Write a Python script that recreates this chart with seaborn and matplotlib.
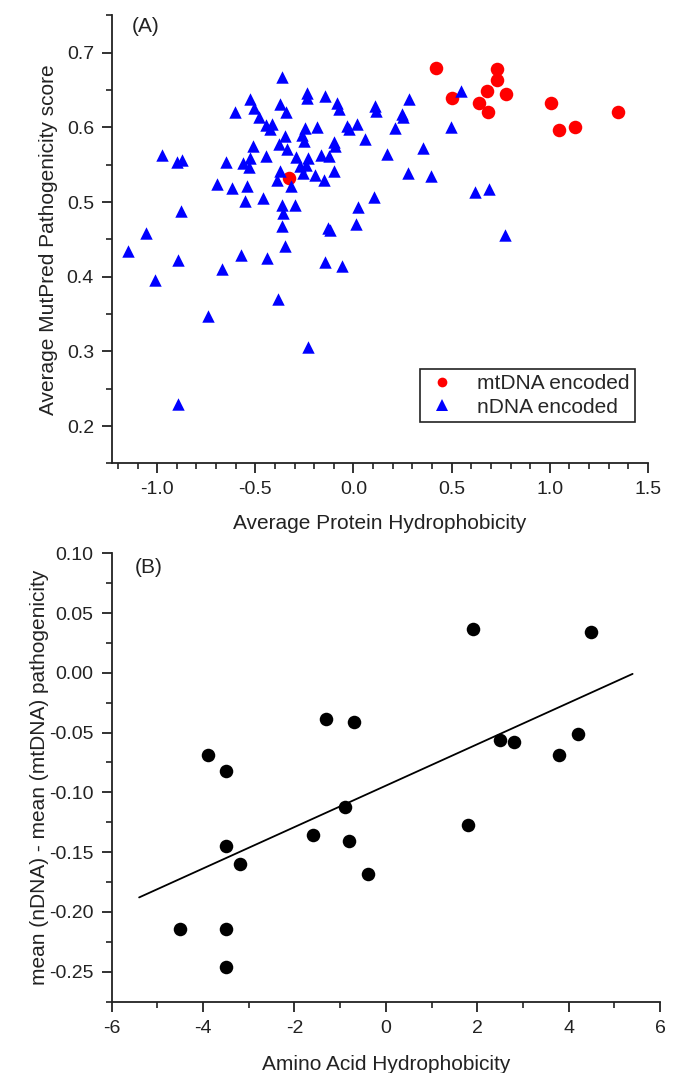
import numpy as np
import pandas as pd
import matplotlib
matplotlib.use("Agg")
import matplotlib.pyplot as plt
from matplotlib.ticker import MultipleLocator, FormatStrFormatter
from matplotlib.lines import Line2D
import seaborn as sns

# ---------------- data ----------------
# Panel A: mtDNA-encoded proteins
mt_hydro = [0.421, 0.731, 0.732, 0.680, 0.779, 0.504, 0.637, 0.684, 1.006, 1.348, 1.049, 1.127, -0.328]
mt_path = [0.680, 0.678, 0.664, 0.649, 0.645, 0.639, 0.632, 0.620, 0.632, 0.620, 0.596, 0.600, 0.532]

# Panel A: nDNA-encoded proteins
n_hydro = [-0.975, -0.898, -0.873, -0.878, -1.057, -1.146, -1.009, -0.895, -0.895, -0.742,
           -0.671, -0.572, -0.439, -0.385, -0.648, -0.563, -0.534, -0.694, -0.617, -0.543,
           -0.550, -0.461, -0.601, -0.529, -0.509, -0.482, -0.447, -0.413, -0.427, -0.512,
           -0.529, -0.447, -0.364, -0.372, -0.345, -0.350, -0.379, -0.339, -0.376, -0.390,
           -0.316, -0.364, -0.359, -0.362, -0.350, -0.299, -0.294, -0.274, -0.240, -0.231,
           -0.257, -0.197, -0.150, -0.099, -0.163, -0.124, -0.099, -0.095, -0.248, -0.188,
           -0.260, -0.253, -0.235, -0.235, -0.146, -0.085, -0.072, -0.035, 0.017, 0.058,
           0.109, 0.114, 0.284, 0.249, 0.254, 0.211, 0.169, 0.353, 0.496, 0.546,
           0.279, 0.394, 0.104, 0.021, 0.015, -0.129, -0.121, -0.146, -0.058, 0.770,
           0.620, 0.692, -0.231, -0.023]
n_path = [0.563, 0.553, 0.556, 0.488, 0.458, 0.435, 0.396, 0.422, 0.230, 0.347,
          0.410, 0.429, 0.425, 0.370, 0.554, 0.552, 0.547, 0.524, 0.519, 0.522,
          0.501, 0.505, 0.621, 0.638, 0.626, 0.614, 0.603, 0.604, 0.598, 0.575,
          0.559, 0.562, 0.667, 0.631, 0.620, 0.588, 0.578, 0.571, 0.542, 0.530,
          0.522, 0.496, 0.485, 0.468, 0.441, 0.496, 0.560, 0.548, 0.550, 0.559,
          0.539, 0.536, 0.530, 0.542, 0.563, 0.562, 0.580, 0.575, 0.599, 0.601,
          0.590, 0.582, 0.646, 0.639, 0.642, 0.633, 0.624, 0.602, 0.605, 0.584,
          0.629, 0.622, 0.638, 0.618, 0.614, 0.599, 0.565, 0.572, 0.601, 0.649,
          0.539, 0.535, 0.507, 0.493, 0.470, 0.465, 0.462, 0.420, 0.415, 0.456,
          0.513, 0.518, 0.306, 0.598]

group_names = ["mtDNA encoded", "nDNA encoded"]

# Panel B: amino acids (Kyte-Doolittle hydrophobicity) vs pathogenicity difference
amino_acids = ["R", "K", "N", "D", "H", "Q", "E", "P", "Y", "W",
               "S", "T", "G", "A", "M", "C", "F", "L", "V", "I"]
aa_hydro = [-4.5, -3.9, -3.5, -3.5, -3.2, -3.5, -3.5, -1.6, -1.3, -0.9,
            -0.8, -0.7, -0.4, 1.8, 1.9, 2.5, 2.8, 3.8, 4.2, 4.5]
aa_diff = [-0.214, -0.069, -0.082, -0.145, -0.160, -0.214, -0.246, -0.136, -0.039, -0.112,
           -0.141, -0.041, -0.168, -0.127, 0.037, -0.056, -0.058, -0.069, -0.051, 0.034]
fit_span = [-5.4, 5.4]

# ---------------- style ----------------
sns.set_style("ticks")
plt.rcParams["font.family"] = ["Liberation Sans", "DejaVu Sans"]
plt.rcParams["axes.edgecolor"] = "#222222"
plt.rcParams["axes.linewidth"] = 1.3
plt.rcParams["xtick.color"] = "#222222"
plt.rcParams["ytick.color"] = "#222222"

FS_LABEL = 15
FS_TICK = 14

fig = plt.figure(figsize=(6.75, 10.73), dpi=100)
axA = fig.add_axes([0.1659, 0.5681, 0.7941, 0.4176])
axB = fig.add_axes([0.1655, 0.0665, 0.8123, 0.4179])


def style_axis(ax):
    sns.despine(ax=ax)
    ax.tick_params(which="major", direction="out", length=7, width=1.3, labelsize=FS_TICK,
                   colors="#222222", labelcolor="#222222", pad=6)
    ax.tick_params(which="minor", direction="out", length=4, width=1.2, colors="#222222")


# ---------------- panel A ----------------
dfA = pd.DataFrame({
    "hydro": mt_hydro + n_hydro,
    "path": mt_path + n_path,
    "group": [group_names[0]] * len(mt_hydro) + [group_names[1]] * len(n_hydro),
})
sns.scatterplot(data=dfA[dfA.group == group_names[0]], x="hydro", y="path", ax=axA,
                color="#ff0000", marker="o", s=95, linewidth=0, legend=False, zorder=3)
sns.scatterplot(data=dfA[dfA.group == group_names[1]], x="hydro", y="path", ax=axA,
                color="#0000ff", marker="^", s=80, linewidth=0, legend=False, zorder=4)

axA.set_xlim(-1.23, 1.5)
axA.set_ylim(0.15, 0.75)
axA.xaxis.set_major_locator(MultipleLocator(0.5))
axA.xaxis.set_minor_locator(MultipleLocator(0.1))
axA.yaxis.set_major_locator(MultipleLocator(0.1))
axA.yaxis.set_minor_locator(MultipleLocator(0.05))
axA.xaxis.set_major_formatter(FormatStrFormatter("%.1f"))
axA.yaxis.set_major_formatter(FormatStrFormatter("%.1f"))
style_axis(axA)
axA.set_xlabel("Average Protein Hydrophobicity", fontsize=FS_LABEL, color="#222222", labelpad=11)
axA.set_ylabel("Average MutPred Pathogenicity score", fontsize=FS_LABEL, color="#222222", labelpad=6)
axA.text(0.037, 0.975, "(A)", transform=axA.transAxes, fontsize=FS_LABEL, va="center", ha="left",
         color="#222222")

handles = [
    Line2D([], [], linestyle="none", marker="o", color="#ff0000", markersize=7, markeredgewidth=0),
    Line2D([], [], linestyle="none", marker="^", color="#0000ff", markersize=8, markeredgewidth=0),
]
leg = axA.legend(handles, group_names, loc="lower right", bbox_to_anchor=(0.976, 0.093),
                 fontsize=FS_LABEL, frameon=True, fancybox=False, edgecolor="#222222",
                 framealpha=1, borderpad=0.25, handletextpad=0.9, labelspacing=0.2,
                 handlelength=1.6, borderaxespad=0)
leg.get_frame().set_linewidth(1.2)

# ---------------- panel B ----------------
dfB = pd.DataFrame({"aa": amino_acids, "hydro": aa_hydro, "diff": aa_diff})
sns.scatterplot(data=dfB, x="hydro", y="diff", ax=axB, color="black", marker="o", s=95,
                linewidth=0, legend=False, zorder=3)
slope, intercept = np.polyfit(dfB["hydro"], dfB["diff"], 1)
fit_x = np.array(fit_span)
sns.lineplot(x=fit_x, y=slope * fit_x + intercept, ax=axB, color="black", linewidth=1.3, zorder=2)

axB.set_xlim(-6, 6)
axB.set_ylim(-0.275, 0.10)
axB.xaxis.set_major_locator(MultipleLocator(2))
axB.xaxis.set_minor_locator(MultipleLocator(1))
axB.yaxis.set_major_locator(MultipleLocator(0.05))
axB.yaxis.set_minor_locator(MultipleLocator(0.025))
axB.xaxis.set_major_formatter(FormatStrFormatter("%d"))
axB.yaxis.set_major_formatter(FormatStrFormatter("%.2f"))
style_axis(axB)
axB.set_xlabel("Amino Acid Hydrophobicity", fontsize=FS_LABEL, color="#222222", labelpad=13)
axB.set_ylabel("mean (nDNA) - mean (mtDNA) pathogenicity", fontsize=FS_LABEL, color="#222222",
               labelpad=0)
axB.text(0.0425, 0.969, "(B)", transform=axB.transAxes, fontsize=FS_LABEL, va="center", ha="left",
         color="#222222")

fig.savefig("out.png", dpi=100, facecolor="white")
